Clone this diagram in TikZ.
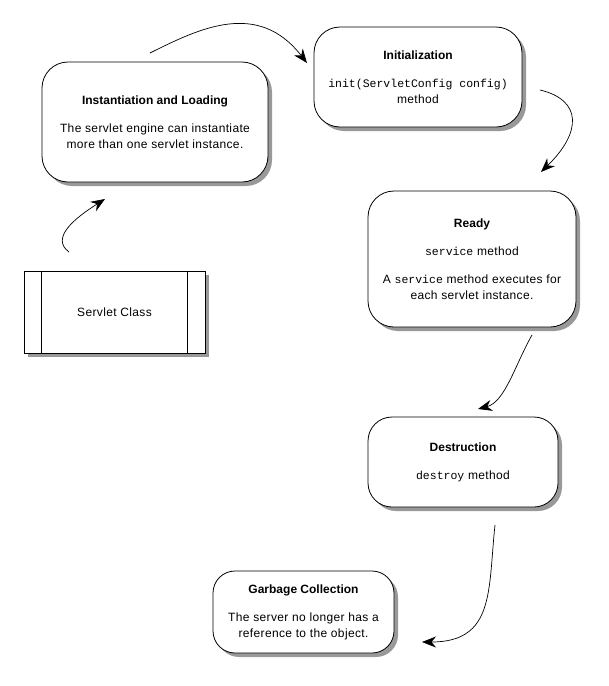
\documentclass[tikz,border=0pt]{standalone}
\usepackage{fontspec}
\setmainfont{Liberation Sans}[LetterSpace=3,BoldFeatures={LetterSpace=0}]
\setmonofont{Liberation Mono}
\usetikzlibrary{shadows,arrows.meta,calc}
\tikzset{
  state/.style={draw=black, line width=0.8pt, fill=white, rounded corners=26pt, align=center,
    font=\fontsize{12}{16}\selectfont, inner sep=0pt,
    drop shadow={shadow xshift=4pt, shadow yshift=-4pt, fill=black!40, opacity=1}},
  classbox/.style={draw=black, line width=0.8pt, fill=white, align=center,
    font=\fontsize{12}{16}\selectfont, inner sep=0pt,
    drop shadow={shadow xshift=4pt, shadow yshift=-4pt, fill=black!40, opacity=1}},
  flow/.style={draw=black, line width=0.7pt, -{Stealth[length=14pt,width=11pt]}},
}
\newcommand{\mono}[1]{{\fontsize{11.5}{16}\selectfont\ttfamily #1}}
\begin{document}
\begin{tikzpicture}[x=1pt,y=-1pt]
\useasboundingbox (0,0) rectangle (609,686);

\node[state, minimum width=226pt, minimum height=120pt] (inst) at (155,122)
  {\textbf{Instantiation and Loading}\\[12pt]The servlet engine can instantiate\\more than one servlet instance.};
\node[state, minimum width=208pt, minimum height=100pt] (init) at (418,77)
  {\textbf{Initialization}\\[12pt]\mono{init(ServletConfig config)}\\method};
\node[state, minimum width=208pt, minimum height=136pt] (ready) at (472,259)
  {\textbf{Ready}\\[12pt]\mono{service} method\\[12pt]A \mono{service} method executes for\\each servlet instance.};
\node[state, minimum width=190pt, minimum height=90pt, rounded corners=24pt] (dest) at (463,462)
  {\textbf{Destruction}\\[12pt]\mono{destroy} method};
\node[state, minimum width=181pt, minimum height=82pt, rounded corners=22pt] (gc) at (303.5,612)
  {\textbf{Garbage Collection}\\[12pt]The server no longer has a\\reference to the object.};
\node[classbox, minimum width=181pt, minimum height=82pt] (cls) at (114.5,312) {Servlet Class};
\draw[line width=0.8pt] ($(cls.north west)+(18,0)$) -- ($(cls.south west)+(18,0)$);
\draw[line width=0.8pt] ($(cls.north east)+(-18,0)$) -- ($(cls.south east)+(-18,0)$);

\coordinate (a1s) at (69,252);   \coordinate (a1e) at (105,199);
\coordinate (a2s) at (150,53);   \coordinate (a2e) at (307,63);
\coordinate (a3s) at (540,90);   \coordinate (a3e) at (541,172);
\coordinate (a4s) at (532,335);  \coordinate (a4e) at (478,409);
\coordinate (a5s) at (495,525);  \coordinate (a5e) at (422,642);

\draw[flow] (a1s) .. controls (50,238) and (75,218) .. (a1e);
\draw[flow] (a2s) .. controls (200,28) and (258,0) .. (a2e);
\draw[flow] (a3s) .. controls (582,100) and (582,132) .. (a3e);
\draw[flow] (a4s) .. controls (515,365) and (505,402) .. (a4e);
\draw[flow] (a5s) .. controls (488,590) and (495,642) .. (a5e);
\end{tikzpicture}
\end{document}
